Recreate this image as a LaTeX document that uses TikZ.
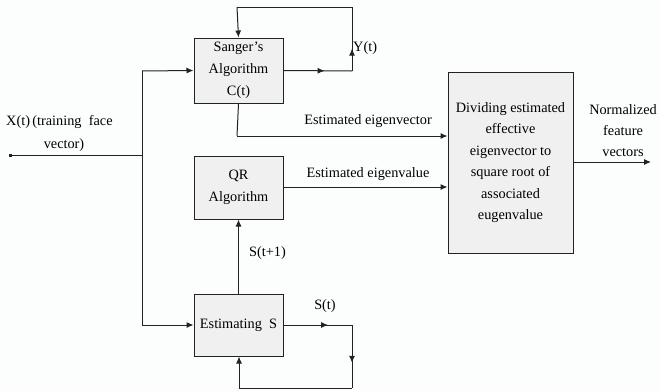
\documentclass[tikz,border=0pt]{standalone}
\usepackage{fontspec}
\setmainfont{Liberation Serif}
\usepackage{tikz}
\usetikzlibrary{arrows.meta,decorations.markings}

\definecolor{boxfill}{HTML}{F0F0F0}
\definecolor{bgcol}{HTML}{FCFEFE}
\definecolor{linecol}{HTML}{222222}

\begin{document}
\begin{tikzpicture}[x=1pt,y=-1pt,font=\fontsize{14.3}{22}\selectfont,
    block node/.style={draw=linecol,fill=boxfill,line width=1pt,align=center,inner sep=0pt},
    wire/.style={draw=linecol,line width=1pt},
    tip/.style={-{Latex[length=7pt,width=6pt]}},
    midtip/.style={postaction=decorate,decoration={markings,
        mark=at position #1 with {\arrow{Latex[length=7pt,width=6pt]}}}}]
  \useasboundingbox[fill=bgcol] (0,0) rectangle (660,391);

  % blocks
  \node[block node,minimum width=89pt,minimum height=65pt] (sanger) at (238.5,70.5)
    {Sanger's\\Algorithm\\C(t)};
  \node[block node,minimum width=89pt,minimum height=63pt] (qr) at (238.5,187.5)
    {QR\\Algorithm};
  \node[block node,minimum width=89pt,minimum height=62pt] (est) at (238.5,325)
    {Estimating\ \ S};
  \node[block node,minimum width=125pt,minimum height=181pt,
        font=\fontsize{14.3}{21.5}\selectfont] (divide) at (510.5,162.5)
    {Dividing estimated\\effective\\eigenvector to\\square root of\\associated\\eugenvalue};

  % input
  \fill[linecol] (8.5,153.5) rectangle (11.5,156.5);
  \coordinate (xin) at (10,155);
  \coordinate (split) at (142,155);
  \coordinate (splittop) at (142,71);
  \coordinate (splitbot) at (142,325);
  \draw[wire] (xin) -- (split);
  \draw[wire] (splittop) -- (splitbot);
  \draw[wire,tip] (splittop) -- (sanger.west);
  \draw[wire,tip] (splitbot) -- (est.west);
  \node[anchor=west,inner sep=1pt] (xlab) at (5,122) {X(t)\,(training\ \ face};
  \node (xlab2) at (64,145) {vector)};

  % Sanger feedback loop
  \coordinate (yr) at (352,71);
  \coordinate (ytop) at (352,7);
  \coordinate (stop) at (237,7);
  \draw[wire,midtip=0.6] (sanger.east) -- (yr);
  \draw[wire,midtip=0.35] (yr) -- (ytop);
  \draw[wire] (ytop) -- (stop);
  \draw[wire,tip] (stop) -- (sanger.north);
  \node[anchor=west,inner sep=1pt] (ylab) at (352,48) {Y(t)};

  % eigenvector
  \coordinate (evc) at (237,136);
  \draw[wire] (sanger.south) -- (evc);
  \draw[wire,tip] (evc) -- (divide.west |- evc);
  \node (evlab) at (368,121) {Estimated eigenvector};

  % eigenvalue
  \draw[wire,tip] (qr.east |- 0,187) -- (divide.west |- 0,187);
  \node (evallab) at (368,174) {Estimated eigenvalue};

  % S(t+1)
  \draw[wire,tip] (est.north) -- (qr.south);
  \node[anchor=west,inner sep=1pt] (s1lab) at (248,253) {S(t+1)};

  % S(t) feedback loop
  \coordinate (sr) at (352,325);
  \coordinate (sbot) at (352,388);
  \coordinate (sleft) at (239,388);
  \draw[wire,midtip=0.65] (est.east) -- (sr);
  \draw[wire,midtip=0.6] (sr) -- (sbot);
  \draw[wire] (sbot) -- (sleft);
  \draw[wire,tip] (sleft) -- (est.south -| sleft);
  \node (stlab) at (325,306) {S(t)};

  % output
  \coordinate (out) at (651,162);
  \draw[wire,tip] (divide.east |- out) -- (out);
  \node[align=center,font=\fontsize{14.3}{21}\selectfont] (outlab) at (623,131)
    {Normalized\\feature\\vectors};
\end{tikzpicture}
\end{document}
